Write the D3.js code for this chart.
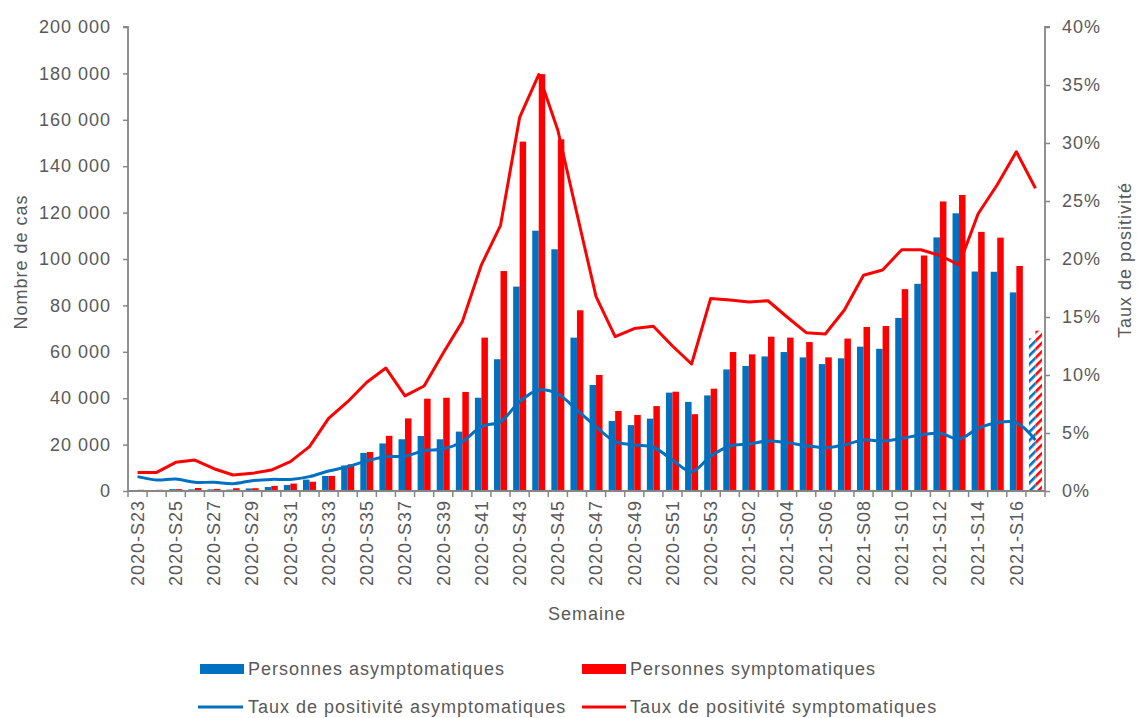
<!DOCTYPE html>
<html><head><meta charset="utf-8">
<script src="https://cdn.jsdelivr.net/npm/d3@7/dist/d3.min.js"></script>
<style>
body{margin:0;background:#fff}
text{font-family:"Liberation Sans",Arial,sans-serif;fill:#595959;font-size:18px;letter-spacing:1px}
</style>
</head><body>
<svg id="c" width="1137" height="718"></svg>
<script>
const weeks = ["2020-S23","2020-S24","2020-S25","2020-S26","2020-S27","2020-S28","2020-S29","2020-S30","2020-S31","2020-S32",
"2020-S33","2020-S34","2020-S35","2020-S36","2020-S37","2020-S38","2020-S39","2020-S40","2020-S41","2020-S42",
"2020-S43","2020-S44","2020-S45","2020-S46","2020-S47","2020-S48","2020-S49","2020-S50","2020-S51","2020-S52",
"2020-S53","2021-S01","2021-S02","2021-S03","2021-S04","2021-S05","2021-S06","2021-S07","2021-S08","2021-S09",
"2021-S10","2021-S11","2021-S12","2021-S13","2021-S14","2021-S15","2021-S16","2021-S17"];
const tickWeeks = ["2020-S23","2020-S25","2020-S27","2020-S29","2020-S31","2020-S33","2020-S35","2020-S37","2020-S39","2020-S41",
"2020-S43","2020-S45","2020-S47","2020-S49","2020-S51","2020-S53","2021-S02","2021-S04","2021-S06","2021-S08",
"2021-S10","2021-S12","2021-S14","2021-S16"];
const provisional = ["2021-S17"];
const asymCases = [400,300,800,700,700,600,1100,1700,2600,4900,
6500,11000,16400,20500,22300,23700,22300,25600,40200,56800,
88100,112200,104200,66100,45700,30200,28400,31200,42400,38400,
41200,52400,53900,58000,59900,57600,54700,57200,62200,61300,
74600,89300,109300,119700,94600,94500,85600,65800];
const symCases = [500,500,800,1300,900,1200,1200,2200,3200,4000,
6500,11500,16800,23800,31300,39800,40200,42700,66100,94800,
150600,179700,151600,77900,50000,34500,32800,36600,42800,33100,
44100,59900,58900,66500,66100,64200,57600,65700,70700,71100,
87000,101500,124800,127600,111700,109200,97000,69100];
const asymRate = [1.24,0.95,1.03,0.75,0.75,0.63,0.89,1.0,1.0,1.24,
1.72,2.1,2.6,2.96,3.0,3.48,3.62,4.25,5.55,5.98,
7.7,8.7,8.36,6.98,5.55,4.25,3.97,3.77,2.67,1.67,
3.0,3.88,4.05,4.31,4.17,3.91,3.74,3.97,4.4,4.31,
4.54,4.83,4.97,4.48,5.4,5.89,5.89,4.4];
const symRate = [1.6,1.6,2.47,2.67,1.92,1.38,1.52,1.81,2.53,3.82,
6.26,7.7,9.37,10.6,8.2,9.05,11.9,14.6,19.5,22.9,
32.2,35.9,31.1,23.9,16.75,13.3,14.0,14.2,12.5,10.95,
16.6,16.47,16.3,16.4,15.0,13.65,13.53,15.6,18.6,19.05,
20.8,20.8,20.3,19.5,23.9,26.4,29.25,26.1];
const leftTicks = [0,20000,40000,60000,80000,100000,120000,140000,160000,180000,200000];
const rightTicks = [0,5,10,15,20,25,30,35,40];
const seriesNames = ["Personnes asymptomatiques","Personnes symptomatiques","Taux de positivité asymptomatiques","Taux de positivité symptomatiques"];

const BLUE="#0070C0", RED="#FF0000", AX="#868686";
const svg = d3.select("#c");
const L=128, R=1045, T=27, B=491;

const defs = svg.append("defs");
function hatch(id,color){
  const p = defs.append("pattern").attr("id",id).attr("patternUnits","userSpaceOnUse")
    .attr("width",6).attr("height",6).attr("patternTransform","rotate(45)");
  p.append("rect").attr("width",6).attr("height",6).attr("fill","#fff");
  p.append("rect").attr("width",2.6).attr("height",6).attr("fill",color);
}
hatch("hb",BLUE); hatch("hr",RED);

const x = d3.scaleBand().domain(weeks).range([L,R]).paddingInner(0).paddingOuter(0);
const bw = x.bandwidth();
const sub = d3.scaleBand().domain(["a","s"]).range([0, bw*0.68]);
const off = bw*0.16;
const y = d3.scaleLinear().domain([0,200000]).range([B,T]);
const yr = d3.scaleLinear().domain([0,40]).range([B,T]);

// bars
const data = weeks.map((w,i)=>({w,a:asymCases[i],s:symCases[i],ar:asymRate[i],sr:symRate[i],prov:provisional.includes(w)}));
const g = svg.append("g");
g.selectAll(".ba").data(data).join("rect")
  .attr("x",d=>x(d.w)+off+sub("a")).attr("width",sub.bandwidth())
  .attr("y",d=>y(d.a)).attr("height",d=>B-y(d.a))
  .attr("fill",d=>d.prov?"url(#hb)":BLUE);
g.selectAll(".bs").data(data).join("rect")
  .attr("x",d=>x(d.w)+off+sub("s")).attr("width",sub.bandwidth())
  .attr("y",d=>y(d.s)).attr("height",d=>B-y(d.s))
  .attr("fill",d=>d.prov?"url(#hr)":RED);

// axes
const fmt = d3.formatLocale({decimal:",",thousands:" ",grouping:[3],currency:["","€"]}).format(",d");
const ax = svg.append("g").attr("transform",`translate(${L},0)`)
  .call(d3.axisLeft(y).tickValues(leftTicks).tickFormat(fmt).tickSize(5).tickPadding(12));
const axr = svg.append("g").attr("transform",`translate(${R},0)`)
  .call(d3.axisRight(yr).tickValues(rightTicks).tickFormat(d=>d+"%").tickSize(5).tickPadding(12));
const axb = svg.append("g").attr("transform",`translate(0,${B})`)
  .call(d3.axisBottom(x).tickValues(tickWeeks).tickSize(0).tickPadding(8));
// category boundary ticks
svg.append("g").selectAll("line").data(weeks.concat(["_end"])).join("line")
  .attr("x1",(d,i)=>L+i*bw).attr("x2",(d,i)=>L+i*bw).attr("y1",B).attr("y2",B+6)
  .attr("stroke",AX).attr("stroke-width",1.5);
[ax,axr,axb].forEach(a=>{
  a.selectAll("path").attr("stroke",AX).attr("stroke-width",1.8);
  a.selectAll("line").attr("stroke",AX).attr("stroke-width",1.5);
  a.selectAll("text").attr("fill","#595959").style("font-size","18px").attr("font-family",null);
});
ax.select("path").attr("d",`M-5,${T}H0V${B}`);
axr.select("path").attr("d",`M5,${T}H0V${B}`);
axb.select("path").attr("d",`M${L},0H${R}`);
axb.selectAll(".tick text").attr("transform","rotate(-90)").attr("text-anchor","end")
  .attr("x",-9).attr("y",0).attr("dy","0.35em");

// lines
const lineA = d3.line().x(d=>x(d.w)+bw/2).y(d=>yr(d.ar)).curve(d3.curveCatmullRom.alpha(0.5));
const lineS = d3.line().x(d=>x(d.w)+bw/2).y(d=>yr(d.sr));
svg.append("path").datum(data).attr("d",lineA).attr("fill","none").attr("stroke",BLUE).attr("stroke-width",3).attr("stroke-linejoin","round");
svg.append("path").datum(data).attr("d",lineS).attr("fill","none").attr("stroke",RED).attr("stroke-width",3).attr("stroke-linejoin","round");

// titles
svg.append("text").attr("transform","translate(27,262) rotate(-90)").attr("text-anchor","middle").text("Nombre de cas");
svg.append("text").attr("transform","translate(1131,260) rotate(-90)").attr("text-anchor","middle").text("Taux de positivité");
svg.append("text").attr("x",587).attr("y",620).attr("text-anchor","middle").text("Semaine");

// legend
const leg = svg.append("g");
const lx=[200,582], ly=[669,707];
leg.append("rect").attr("x",lx[0]).attr("y",ly[0]-5).attr("width",44).attr("height",10).attr("fill",BLUE);
leg.append("rect").attr("x",lx[1]).attr("y",ly[0]-5).attr("width",44).attr("height",10).attr("fill",RED);
leg.append("line").attr("x1",lx[0]-2).attr("x2",lx[0]+43).attr("y1",ly[1]).attr("y2",ly[1]).attr("stroke",BLUE).attr("stroke-width",3);
leg.append("line").attr("x1",lx[1]).attr("x2",lx[1]+44).attr("y1",ly[1]).attr("y2",ly[1]).attr("stroke",RED).attr("stroke-width",3);
[[0,0],[1,0],[0,1],[1,1]].forEach(([c,r],k)=>{
  leg.append("text").attr("x",lx[c]+48).attr("y",ly[r]).attr("dy","0.35em").text(seriesNames[r*2+c]);
});
</script>
</body></html>
